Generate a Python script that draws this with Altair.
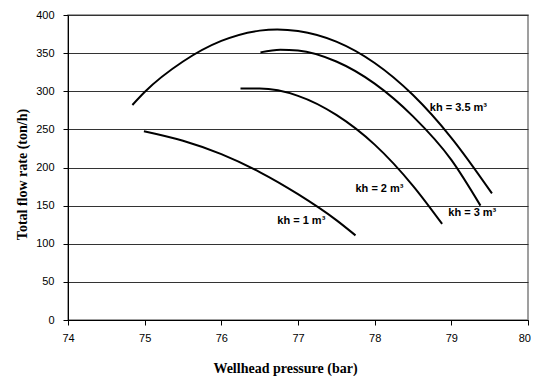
import altair as alt
import pandas as pd

# Curves (wellhead pressure in bar, flow rate in ton/h)
kh35_x = [74.84, 75.0, 75.5, 76.0, 76.5, 76.73, 77.0, 77.5, 78.0, 78.5, 79.0, 79.53]
kh35_y = [282, 299, 339, 366, 379.5, 381, 379, 365, 337, 295, 239, 166]

kh3_x = [76.51, 76.77, 77.0, 77.5, 78.0, 78.5, 79.0, 79.38]
kh3_y = [351, 354.5, 353.5, 339, 310, 267, 210, 150]

kh2_x = [76.25, 76.5, 77.0, 77.5, 78.0, 78.5, 78.88]
kh2_y = [303.5, 303.5, 294, 269, 230, 176, 126]

kh1_x = [74.99, 75.5, 76.0, 76.5, 77.0, 77.5, 77.75]
kh1_y = [247.5, 235, 217.5, 194, 165, 131, 111]

label_x = [78.72, 78.96, 77.75, 76.73]
label_y = [278, 140, 172, 130]
label_text = ["kh = 3.5 m³", "kh = 3 m³", "kh = 2 m³", "kh = 1 m³"]

x_ticks = [74, 75, 76, 77, 78, 79, 80]
y_ticks = [0, 50, 100, 150, 200, 250, 300, 350, 400]

rows = []
for name, xs, ys in [("3.5", kh35_x, kh35_y), ("3", kh3_x, kh3_y),
                     ("2", kh2_x, kh2_y), ("1", kh1_x, kh1_y)]:
    for i, (a, b) in enumerate(zip(xs, ys)):
        rows.append({"kh": name, "p": a, "q": b, "order": i})
df = pd.DataFrame(rows)
lab = pd.DataFrame({"p": label_x, "q": label_y, "t": label_text})

xscale = alt.Scale(domain=[74, 80], nice=False, zero=False)
yscale = alt.Scale(domain=[0, 400], nice=False)

xaxis = alt.Axis(
    values=x_ticks, format="d", title="Wellhead pressure (bar)", grid=False,
    tickSize=5, labelPadding=7, titleX=217, titleY=48, titleBaseline="middle",
    labelOverlap=False,
    labelAlign={"condition": {"test": "datum.value == 80", "value": "right"}, "value": "center"},
    labelOffset={"condition": {"test": "datum.value == 80", "value": 2.5}, "value": 0},
)
yaxis = alt.Axis(
    values=y_ticks, format="d", title="Total flow rate (ton/h)", grid=True,
    tickSize=5, labelPadding=9, titleX=-46, titleY=159, titleBaseline="middle",
    labelOverlap=False)

X = alt.X("p:Q", scale=xscale, axis=xaxis)
Y = alt.Y("q:Q", scale=yscale, axis=yaxis)

lines = alt.Chart(df).mark_line(color="black", strokeWidth=2, interpolate="monotone").encode(
    x=X, y=Y, detail="kh:N", order="order:Q",
)

labels = alt.Chart(lab).mark_text(
    align="left", baseline="middle", font="Liberation Sans", fontSize=11,
    fontWeight="bold", color="black"
).encode(x=X, y=Y, text="t:N")

chart = alt.layer(lines, labels).properties(
    width=460, height=305, autosize="none",
    padding={"left": 60, "top": 7, "right": 3, "bottom": 56},
).configure_view(stroke="#808080", strokeWidth=1.5).configure_axis(
    labelFont="Liberation Sans", labelFontSize=11, labelColor="black",
    titleFont="Liberation Serif", titleFontSize=14, titleFontWeight="bold", titleColor="black",
    domainColor="black", tickColor="black", gridColor="#333333", gridOpacity=1,
    labelFlush=False,
)

chart.save("out.html", embed_options={"renderer": "svg", "actions": False})
